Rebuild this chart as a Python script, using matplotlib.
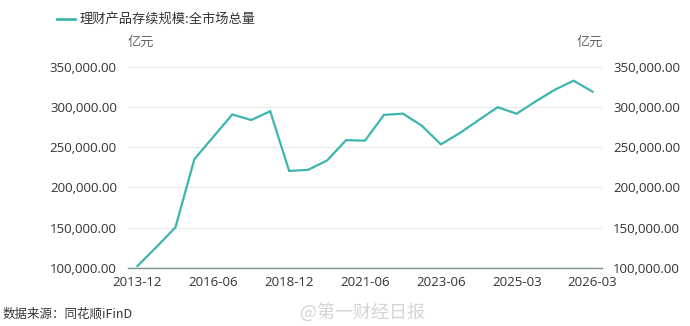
import matplotlib
matplotlib.use("Agg")
import matplotlib.pyplot as plt
from matplotlib.ticker import FuncFormatter

plt.rcParams['font.family'] = ['Open Sans', 'Noto Sans CJK SC', 'DejaVu Sans']

# 理财产品存续规模 (亿元)
dates = ['2013-12', '2014-06', '2014-12', '2015-12', '2016-06', '2016-12',
         '2017-06', '2017-12', '2018-12', '2019-06', '2019-12', '2020-12',
         '2021-06', '2021-12', '2022-06', '2022-12', '2023-06', '2023-12',
         '2024-06', '2024-12', '2025-03', '2025-06', '2025-09', '2025-12',
         '2026-03']
scale = [102400, 126000, 150300, 235000, 262800, 290500,
         283600, 294500, 220400, 221800, 233400, 258600,
         258000, 290000, 291500, 276500, 253400, 267400,
         283600, 299500, 291400, 306700, 321000, 332400,
         318800]
yticks = [100000, 150000, 200000, 250000, 300000, 350000]

line_color = '#3db5ae'
text_color = '#333333'
cjk = ['Noto Sans CJK SC', 'DejaVu Sans']

fig = plt.figure(figsize=(6.9, 3.26), dpi=100)
ax = fig.add_axes([128 / 690, 1 - 268 / 326, 474 / 690, (268 - 66.5) / 326])

x = list(range(len(dates)))
ax.plot(x, scale, color=line_color, lw=1.6, solid_joinstyle='miter', zorder=3)

ax.set_xlim(-0.5, len(dates) - 0.5)
ax.set_ylim(100000, 350000)
ax.set_yticks(yticks)
ax.yaxis.set_major_formatter(FuncFormatter(lambda v, p: f'{v:,.2f}'))
ax.set_xticks(x[::4])
ax.set_xticklabels(dates[::4])

ax.grid(axis='y', color='#e9e9e9', lw=0.8, zorder=0)
for s in ['top', 'left', 'right']:
    ax.spines[s].set_visible(False)
ax.spines['bottom'].set_color('#7d8f8f')
ax.spines['bottom'].set_linewidth(1.0)

ax.tick_params(axis='y', length=0, pad=8, labelsize=9.5, labelcolor=text_color,
               labelleft=True, labelright=True)
ax.tick_params(axis='x', length=0, pad=6, labelsize=9.5, labelcolor=text_color)

# units
fig.text(128 / 690, 1 - 42 / 326, '亿元', family=cjk, fontsize=9.5,
         color='#666666', ha='left', va='center')
fig.text(603 / 690, 1 - 42 / 326, '亿元', family=cjk, fontsize=9.5,
         color='#666666', ha='right', va='center')

# legend
fig.add_artist(plt.Line2D([57 / 690, 75 / 690], [1 - 19 / 326, 1 - 19 / 326],
                          color=line_color, lw=2.0))
fig.text(80 / 690, 1 - 19 / 326, '理财产品存续规模:全市场总量', family=cjk,
         fontsize=9.5, color=text_color, ha='left', va='center')

# source + watermark
fig.text(3 / 690, 1 - 314 / 326, '数据来源：同花顺iFinD', family=cjk,
         fontsize=9, color=text_color, ha='left', va='center')
fig.text(300 / 690, 1 - 312 / 326, '@第一财经日报', family=cjk,
         fontsize=13, color='#d4d4d4', ha='left', va='center')

fig.savefig('out.png', dpi=100)
